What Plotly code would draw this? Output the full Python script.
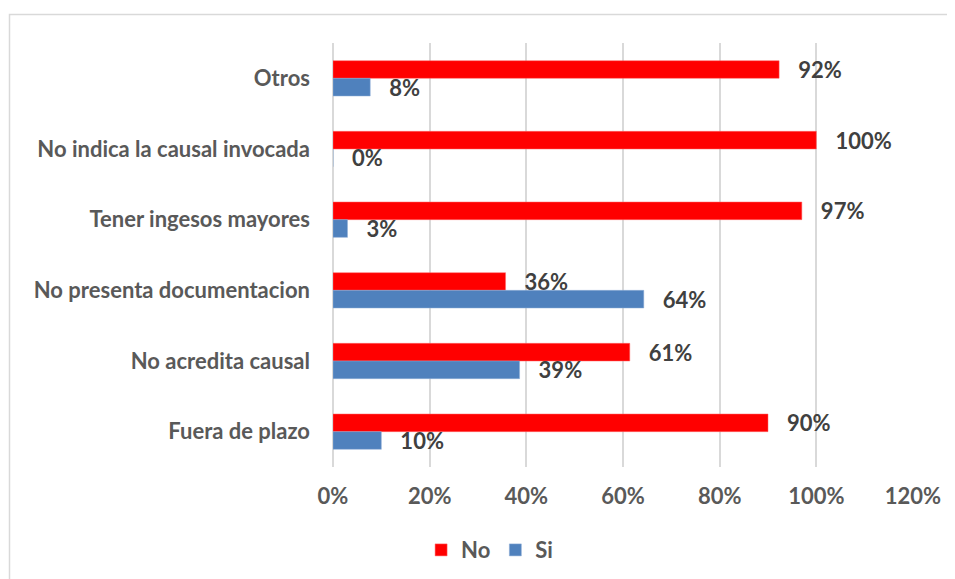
import plotly.graph_objects as go

categories = ["Otros", "No indica la causal invocada", "Tener ingesos mayores",
              "No presenta documentacion", "No acredita causal", "Fuera de plazo"]
no_values = [0.923, 1.0, 0.97, 0.357, 0.614, 0.90]
si_values = [0.077, 0.0, 0.03, 0.643, 0.386, 0.10]
x_ticks = [0, 0.2, 0.4, 0.6, 0.8, 1.0, 1.2]

FONT = "Lato"
SIZE = 22
pad = "\u00a0\u00a0\u00a0"

fig = go.Figure()
fig.add_trace(go.Bar(
    y=categories, x=no_values, orientation="h", name="No",
    marker=dict(color="#FF0000", line=dict(color="#FF6666", width=0.5)),
    texttemplate=pad + "%{x:.0%}", textposition="outside", cliponaxis=False,
    constraintext="none",
    textfont=dict(family=FONT, size=SIZE, color="#404040", weight="bold"),
))
fig.add_trace(go.Bar(
    y=categories, x=si_values, orientation="h", name="Si",
    marker=dict(color="#4F81BD", line=dict(color="#8FAFD6", width=0.5)),
    texttemplate=pad + "%{x:.0%}", textposition="outside", cliponaxis=False,
    constraintext="none",
    textfont=dict(family=FONT, size=SIZE, color="#404040", weight="bold"),
))

# page body has an 8px margin, so the figure is drawn offset by (8, 8)
fig.update_layout(
    width=955, height=579,
    margin=dict(l=325, r=50, t=35, b=120),
    paper_bgcolor="white", plot_bgcolor="white",
    barmode="group", bargap=0.5, bargroupgap=0,
    font=dict(family=FONT, size=SIZE, color="#595959"),
    showlegend=True,
    legend=dict(orientation="h", x=0.27, y=-0.196, xanchor="center", yanchor="middle",
                font=dict(family=FONT, size=SIZE, color="#595959", weight="bold"),
                itemwidth=30, tracegroupgap=0),
    xaxis=dict(range=[0, 1.2], tickvals=x_ticks, tickformat=".0%",
               showgrid=True, gridcolor="#D9D9D9", gridwidth=1.5,
               zeroline=True, zerolinecolor="#D9D9D9", zerolinewidth=1.5,
               showline=False, ticks="", ticklabelstandoff=14,
               tickfont=dict(family=FONT, size=SIZE, color="#595959", weight="bold")),
    yaxis=dict(autorange="reversed", showgrid=False, showline=False, ticks="",
               ticklabelstandoff=22,
               tickfont=dict(family=FONT, size=SIZE, color="#595959", weight="bold")),
    shapes=[dict(type="rect", xref="paper", yref="paper",
                 x0=(1.5 - 325) / 580, x1=1.2, y0=-0.5, y1=(459 - 6.5) / 424,
                 line=dict(color="#D9D9D9", width=1.5), fillcolor="rgba(0,0,0,0)",
                 layer="below")],
)

fig.write_html("out.html")
